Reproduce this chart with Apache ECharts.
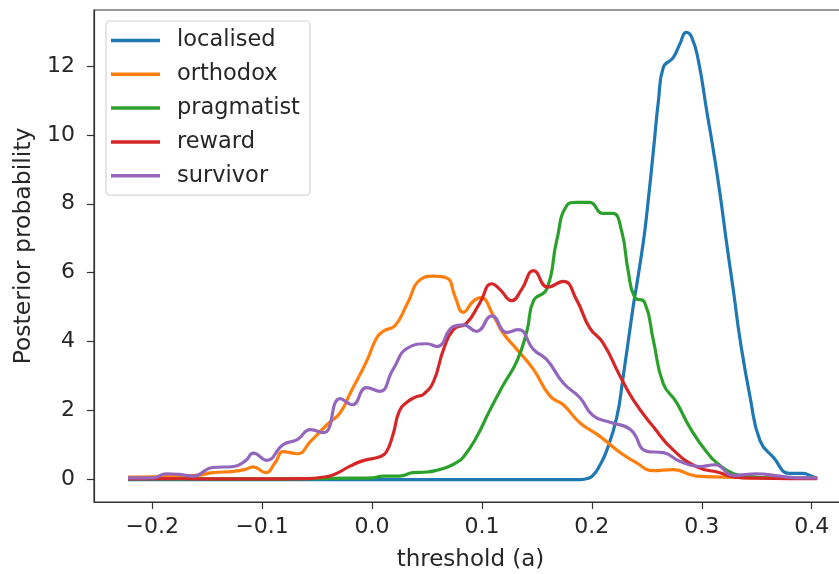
<!DOCTYPE html>
<html>
<head>
<meta charset="utf-8">
<script src="https://cdn.jsdelivr.net/npm/echarts@6/dist/echarts.min.js"></script>
<style>
  html, body { margin: 0; padding: 0; background: #ffffff; }
  #chart { width: 839px; height: 574px; }
</style>
</head>
<body>
<div id="chart"></div>
<script>
// Posterior densities of the threshold parameter (a), one curve per strategy.
const seriesNames = ['localised', 'orthodox', 'pragmatist', 'reward', 'survivor'];
const seriesColors = ['#1f77b4', '#ff7f0e', '#2ca02c', '#d62728', '#9467bd'];

const localised = [
  [-0.222, 0], [0.0, 0], [0.19, 0], [0.196, 0.03], [0.201, 0.12], [0.207, 0.4],
  [0.2135, 0.84], [0.2226, 1.8], [0.228, 2.87], [0.2375, 5.0], [0.241, 5.68],
  [0.247, 6.93], [0.25, 7.71], [0.256, 9.54], [0.2606, 10.99], [0.265, 11.95],
  [0.274, 12.24], [0.28, 12.63], [0.286, 12.97], [0.291, 12.82], [0.297, 12.14],
  [0.3045, 10.7], [0.3106, 9.54], [0.3166, 8.29], [0.3227, 6.84], [0.3288, 5.48],
  [0.335, 4.03], [0.344, 2.39], [0.353, 1.13], [0.365, 0.65], [0.38, 0.18],
  [0.392, 0.18], [0.3985, 0.12], [0.405, 0.03]
];

const orthodox = [
  [-0.222, 0.07], [-0.2, 0.08], [-0.18, 0.1], [-0.16, 0.12], [-0.145, 0.2],
  [-0.126, 0.24], [-0.115, 0.3], [-0.108, 0.37], [-0.097, 0.2], [-0.088, 0.5],
  [-0.081, 0.81], [-0.068, 0.75], [-0.056, 1.11], [-0.041, 1.59], [-0.029, 1.94],
  [-0.02, 2.5], [-0.005, 3.43], [0.004, 4.1], [0.01, 4.3], [0.021, 4.47],
  [0.032, 5.1], [0.044, 5.8], [0.056, 5.9], [0.068, 5.85], [0.0755, 5.31],
  [0.083, 4.85], [0.092, 5.17], [0.099, 5.28], [0.11, 4.78], [0.119, 4.26],
  [0.132, 3.77], [0.147, 3.19], [0.162, 2.42], [0.174, 2.17], [0.189, 1.65],
  [0.207, 1.26], [0.226, 0.78], [0.24, 0.5], [0.256, 0.26], [0.274, 0.29],
  [0.295, 0.1], [0.32, 0.07], [0.35, 0.05], [0.38, 0.04], [0.405, 0.04]
];

const pragmatist = [
  [-0.222, 0.02], [-0.1, 0.02], [-0.05, 0.03], [-0.02, 0.04], [0.0, 0.05],
  [0.01, 0.1], [0.025, 0.1], [0.037, 0.2], [0.05, 0.22], [0.06, 0.28],
  [0.068, 0.36], [0.076, 0.48], [0.083, 0.65], [0.095, 1.23], [0.107, 2.0],
  [0.119, 2.72], [0.132, 3.45], [0.141, 4.32], [0.147, 5.19], [0.159, 5.53],
  [0.168, 6.93], [0.177, 7.94], [0.186, 8.04], [0.198, 8.04], [0.21, 7.72],
  [0.219, 7.72], [0.227, 7.22], [0.233, 6.06], [0.239, 5.29], [0.248, 5.14],
  [0.256, 4.03], [0.265, 2.78], [0.277, 2.24], [0.289, 1.52], [0.3045, 0.8],
  [0.317, 0.4], [0.329, 0.17], [0.341, 0.1], [0.36, 0.05], [0.38, 0.04], [0.405, 0.04]
];

const reward = [
  [-0.222, 0.02], [-0.19, 0.03], [-0.15, 0.02], [-0.1, 0.02], [-0.06, 0.03],
  [-0.047, 0.06], [-0.035, 0.14], [-0.02, 0.39], [-0.008, 0.55], [0.007, 0.66],
  [0.013, 0.8], [0.019, 1.3], [0.025, 2.0], [0.032, 2.25], [0.04, 2.4],
  [0.047, 2.48], [0.056, 2.85], [0.065, 3.77], [0.074, 4.35], [0.086, 4.54],
  [0.098, 5.12], [0.109, 5.68], [0.1165, 5.51], [0.127, 5.19], [0.136, 5.51],
  [0.147, 6.06], [0.16, 5.58], [0.174, 5.75], [0.186, 5.22], [0.198, 4.4],
  [0.21, 3.97], [0.2257, 3.0], [0.238, 2.3], [0.256, 1.53], [0.274, 0.86],
  [0.2955, 0.37], [0.3166, 0.2], [0.329, 0.08], [0.35, 0.04], [0.38, 0.03], [0.405, 0.03]
];

const survivor = [
  [-0.222, 0.05], [-0.2, 0.05], [-0.187, 0.17], [-0.175, 0.15], [-0.163, 0.1],
  [-0.145, 0.35], [-0.126, 0.38], [-0.115, 0.55], [-0.108, 0.77], [-0.096, 0.56],
  [-0.081, 1.01], [-0.068, 1.16], [-0.056, 1.45], [-0.044, 1.36], [-0.029, 2.35],
  [-0.018, 2.17], [-0.005, 2.67], [0.007, 2.56], [0.019, 3.19], [0.033, 3.83],
  [0.05, 3.94], [0.059, 3.86], [0.074, 4.44], [0.083, 4.49], [0.095, 4.3],
  [0.109, 4.75], [0.1225, 4.27], [0.133, 4.35], [0.147, 3.77], [0.159, 3.48],
  [0.174, 2.8], [0.189, 2.38], [0.201, 1.86], [0.2166, 1.66], [0.235, 1.45],
  [0.25, 0.82], [0.265, 0.78], [0.28, 0.53], [0.298, 0.38], [0.312, 0.43],
  [0.329, 0.12], [0.35, 0.17], [0.371, 0.1], [0.39, 0.05], [0.405, 0.05]
];

const xTicks = [-0.2, -0.1, 0.0, 0.1, 0.2, 0.3, 0.4];
const yTicks = [0, 2, 4, 6, 8, 10, 12];

const allSeries = [localised, orthodox, pragmatist, reward, survivor];

const FONT = 'DejaVu Sans';
const FS = 22;
const INK = '#262626';
const AXIS = '#333333';

const chart = echarts.init(document.getElementById('chart'), null, { renderer: 'canvas' });

chart.setOption({
  backgroundColor: '#ffffff',
  animation: false,
  textStyle: { fontFamily: FONT },
  grid: {
    left: 94, top: 10, width: 757, height: 492,
    outerBoundsMode: 'none',
    containLabel: false,
    show: true, borderColor: AXIS, borderWidth: 1.2, backgroundColor: 'transparent'
  },
  xAxis: {
    type: 'value',
    min: -0.253, max: 0.4358,
    name: 'threshold (a)',
    nameLocation: 'middle',
    nameGap: 47,
    nameTextStyle: { fontFamily: FONT, fontSize: 23, color: INK, padding: [0, 4, 0, 0] },
    axisLine: { show: true, onZero: false, lineStyle: { color: AXIS, width: 1.2 } },
    axisTick: { show: true, length: 7, customValues: xTicks, lineStyle: { color: AXIS, width: 1.2 } },
    axisLabel: {
      customValues: xTicks, margin: 14, fontFamily: FONT, fontSize: FS, color: INK,
      formatter: v => (v < -1e-9 ? '\u2212' : '') + Math.abs(v).toFixed(1)
    },
    splitLine: { show: false }
  },
  yAxis: {
    type: 'value',
    min: -0.65, max: 13.62,
    name: 'Posterior probability',
    nameLocation: 'middle',
    nameGap: 56,
    nameRotate: 90,
    nameTextStyle: { fontFamily: FONT, fontSize: 23.5, color: INK, padding: [0, 0, 0, 20] },
    axisLine: { show: true, onZero: false, lineStyle: { color: AXIS, width: 1.2 } },
    axisTick: { show: true, length: 7, customValues: yTicks, lineStyle: { color: AXIS, width: 1.2 } },
    axisLabel: {
      customValues: yTicks, margin: 19, fontFamily: FONT, fontSize: FS, color: INK,
      formatter: v => String(Math.round(v))
    },
    splitLine: { show: false }
  },
  legend: {
    orient: 'vertical',
    left: 106, top: 21,
    padding: [8, 10, 8, 5],
    itemWidth: 49, itemHeight: 3.5, itemGap: 10.8,
    icon: 'rect',
    backgroundColor: 'rgba(255,255,255,0.8)',
    borderColor: '#d5d5d5', borderWidth: 1.2, borderRadius: 4,
    textStyle: { fontFamily: FONT, fontSize: 22.5, color: INK, lineHeight: 22, padding: [0, 0, 0, 12] },
    data: seriesNames
  },
  series: seriesNames.map((name, i) => ({
    name,
    type: 'line',
    data: allSeries[i],
    showSymbol: false,
    symbol: 'none',
    smooth: 0.5,
    color: seriesColors[i],
    lineStyle: { color: seriesColors[i], width: 3.2 },
    z: 2 + i
  }))
});
</script>
</body>
</html>
